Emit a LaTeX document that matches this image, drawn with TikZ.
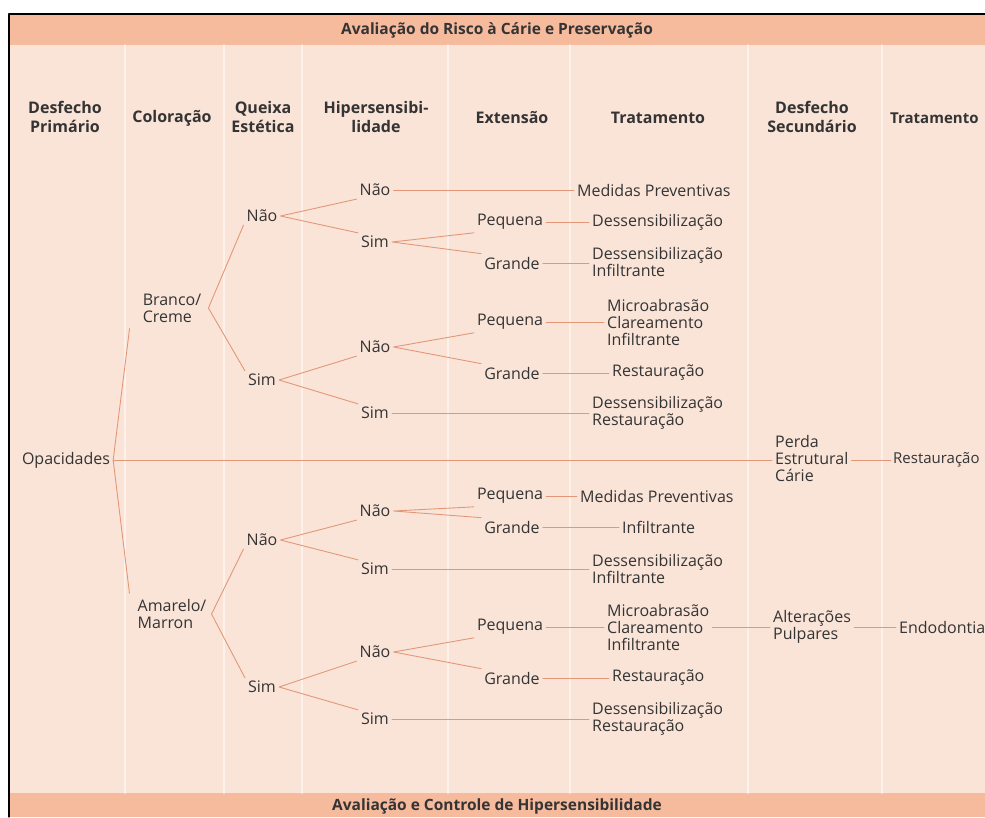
\documentclass[tikz,border=0pt]{standalone}
\usepackage{fontspec}
\setmainfont{Open Sans}
\usepackage{tikz}
\usetikzlibrary{positioning}
\definecolor{peachbg}{RGB}{250, 228, 216}
\definecolor{salmonband}{RGB}{246, 186, 156}
\definecolor{copperline}{RGB}{226, 152, 120}
\definecolor{darktext}{RGB}{52, 52, 52}
\definecolor{colsep}{RGB}{253, 241, 234}

\begin{document}
\begin{tikzpicture}[x=1pt, y=-1pt, line cap=round, line join=round,
    lbl/.style={text=darktext, inner sep=3pt, font=\fontsize{16}{17}\selectfont, align=left},
    leaf/.style={lbl, anchor=west},
    head/.style={text=darktext, inner sep=2pt, font=\bfseries\fontsize{16}{19}\selectfont, align=center},
    link/.style={copperline, line width=0.9pt}]
		% frame and bands
		\useasboundingbox (0,0) rectangle (985,817);
		\clip (0,0) rectangle (985,817);
		\fill [peachbg] (9,14) rectangle (990,817);
		\fill [salmonband] (9,14) rectangle (990,45);
		\fill [salmonband] (9,793) rectangle (990,817);
		\foreach \cx in {125,224,302,448,570,748,882}
			\draw [colsep, line width=1.5pt] (\cx,45) -- (\cx,793);
		\draw [black, line width=1.2pt] (9,817) -- (9,14) -- (990,14);
		\node [head, font=\bfseries\fontsize{15.5}{19}\selectfont] (top) at (497,30) {Avaliação do Risco à Cárie e Preservação};
		\node [head, font=\bfseries\fontsize{15.5}{19}\selectfont] (bottom) at (497,806) {Avaliação e Controle de Hipersensibilidade};

		% column headers
		\node [head] (hdesf) at (65,117) {Desfecho\\Primário};
		\node [head] (hcol) at (172,118) {Coloração};
		\node [head] (hqueixa) at (263,117) {Queixa\\Estética};
		\node [head] (hhiper) at (376,117) {Hipersensibi-\\lidade};
		\node [head] (hext) at (512,118) {Extensão};
		\node [head] (htrat) at (658,118) {Tratamento};
		\node [head] (hdsec) at (812,117) {Desfecho\\Secundário};
		\node [head, anchor=west, inner sep=1pt, font=\bfseries\fontsize{15}{19}\selectfont] (htrat2) at (889,118) {Tratamento};

		% primary outcome and colour
		\node [lbl] (op) at (66,460) {Opacidades};
		\node [lbl] (bc) at (172,308) {Branco/\\Creme};
		\node [lbl] (am) at (172,614) {Amarelo/\\Marron};

		% aesthetic complaint
		\node [lbl] (n1) at (262,216) {Não};
		\node [lbl] (s1) at (262,380) {Sim};
		\node [lbl] (n2) at (262,540) {Não};
		\node [lbl] (s2) at (262,687) {Sim};

		% hypersensitivity
		\node [lbl] (n1n) at (375,190) {Não};
		\node [lbl] (n1s) at (375,242) {Sim};
		\node [lbl] (s1n) at (375,347) {Não};
		\node [lbl] (s1s) at (375,413) {Sim};
		\node [lbl] (n2n) at (375,511) {Não};
		\node [lbl] (n2s) at (375,569) {Sim};
		\node [lbl] (s2n) at (375,652) {Não};
		\node [lbl] (s2s) at (375,719) {Sim};

		% extent
		\node [lbl] (p1) at (510,222) {Pequena};
		\node [lbl] (g1) at (512,263) {Grande};
		\node [lbl] (p2) at (510,322) {Pequena};
		\node [lbl] (g2) at (512,373) {Grande};
		\node [lbl] (p3) at (510,496) {Pequena};
		\node [lbl] (g3) at (512,527) {Grande};
		\node [lbl] (p4) at (510,627) {Pequena};
		\node [lbl] (g4) at (512,678) {Grande};

		% treatment
		\node [leaf] (t1) at (574,190) {Medidas Preventivas};
		\node [leaf] (t2) at (589,222) {Dessensibilização};
		\node [leaf] (t3) at (589,262) {Dessensibilização\\Infiltrante};
		\node [leaf] (t4) at (604,322) {Microabrasão\\Clareamento\\Infiltrante};
		\node [leaf] (t5) at (609,373) {Restauração};
		\node [leaf] (t6) at (589,413) {Dessensibilização\\Restauração};
		\node [leaf] (t7) at (577,496) {Medidas Preventivas};
		\node [leaf] (t8) at (619,527) {Infiltrante};
		\node [leaf] (t9) at (589,569) {Dessensibilização\\Infiltrante};
		\node [leaf] (t10) at (604,627) {Microabrasão\\Clareamento\\Infiltrante};
		\node [leaf] (t11) at (609,678) {Restauração};
		\node [leaf] (t12) at (589,719) {Dessensibilização\\Restauração};

		% secondary outcome and treatment
		\node [leaf] (pe) at (772,458) {Perda\\Estrutural\\Cárie};
		\node [leaf, inner sep=2pt, font=\fontsize{15}{17}\selectfont] (re) at (891,460) {Restauração};
		\node [leaf] (al) at (770,627) {Alterações\\Pulpares};
		\node [leaf] (en) at (896,627) {Endodontia};

		% connectors
		\draw [link] ([xshift=-10pt, yshift=-3pt]bc.south west) -- (op.east) -- ([xshift=-5pt, yshift=3pt]am.north west);
		\draw [link] (op.east) -- (pe.west |- op.east);
		\draw [link] (n1.south west) -- ([xshift=4pt]bc.east) -- (s1.north west);
		\draw [link] (n2.south west) -- ([xshift=2pt]am.east) -- (s2.north west);
		\draw [link] (n1n.south west) -- (n1.east) -- (n1s.north west);
		\draw [link] (s1n.south west) -- (s1.east) -- (s1s.north west);
		\draw [link] (n2n.south west) -- (n2.east) -- (n2s.north west);
		\draw [link] (s2n.south west) -- (s2.east) -- (s2s.north west);
		\draw [link] (p1.south west) -- (n1s.east) -- (g1.north west);
		\draw [link] (p2.south west) -- (s1n.east) -- (g2.north west);
		\draw [link] (p3.south west) -- (n2n.east) -- (g3.north west);
		\draw [link] (p4.south west) -- (s2n.east) -- (g4.north west);
		\draw [link] (n1n) -- (t1);
		\draw [link] (p1) -- (t2);
		\draw [link] (g1) -- (t3.west |- g1);
		\draw [link] (p2) -- (t4);
		\draw [link] (g2) -- (t5);
		\draw [link] (s1s) -- (t6.west |- s1s);
		\draw [link] (p3) -- (t7);
		\draw [link] (g3) -- (t8);
		\draw [link] (n2s) -- (t9.west |- n2s);
		\draw [link] (p4) -- (t10);
		\draw [link] (g4) -- (t11);
		\draw [link] (s2s) -- (t12.west |- s2s);
		\draw [link] (t10) -- (al);
		\draw [link] (al) -- (en);
		\draw [link] (pe.east |- op.east) -- (re);
    \end{tikzpicture}
\end{document}
